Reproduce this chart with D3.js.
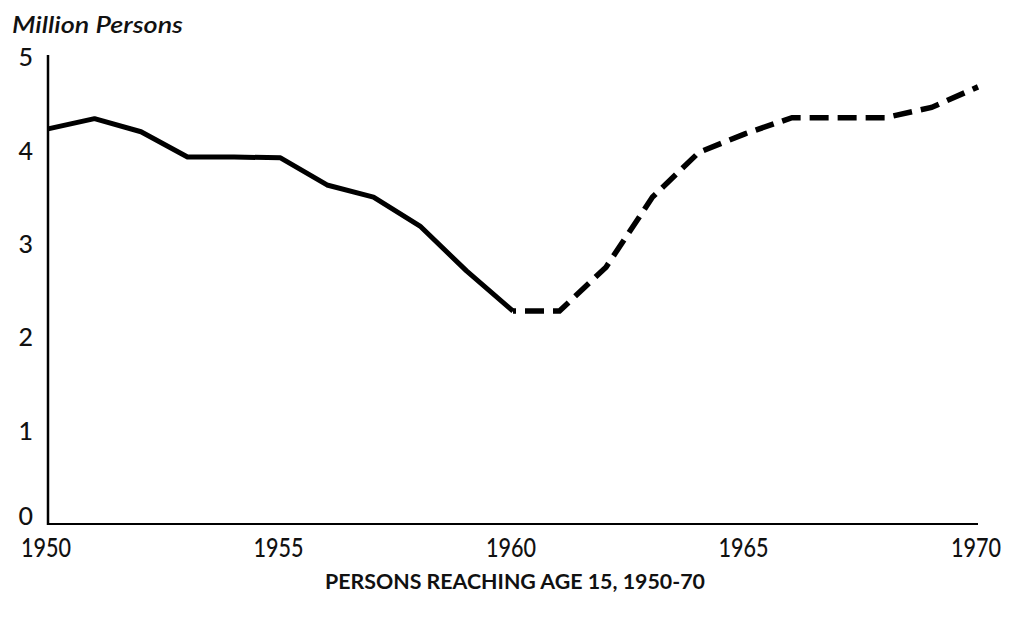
<!DOCTYPE html>
<html><head><meta charset="utf-8">
<script src="https://d3js.org/d3.v7.min.js"></script>
<style>body{margin:0;background:#fff}svg{display:block}</style>
</head><body>
<svg id="c" width="1011" height="626"></svg>
<script>
const actualYears = [1950,1951,1952,1953,1954,1955,1956,1957,1958,1959,1960];
const actualValues = [4.23,4.34,4.2,3.93,3.93,3.92,3.63,3.5,3.19,2.71,2.28];
const projYears = [1960,1961,1962,1963,1964,1965,1966,1967,1968,1969,1970];
const projValues = [2.28,2.28,2.75,3.5,3.98,4.18,4.35,4.35,4.35,4.46,4.68];
const xTicks = [1950,1955,1960,1965,1970];
const yTicks = [0,1,2,3,4,5];
const yTitle = "Million Persons";
const chartTitle = "PERSONS REACHING AGE 15, 1950-70";

const svg = d3.select("#c");
const x = d3.scaleLinear().domain([1950,1970]).range([48,978]);
const y = d3.scaleLinear().domain([0,5]).range([524,57]);
const font = "Lato, 'DejaVu Sans', sans-serif";

// y axis
const yAxis = d3.axisLeft(y).tickValues(yTicks).tickSize(0).tickPadding(15).tickFormat(d3.format("d"));
const gy = svg.append("g").attr("transform","translate(48,0)").call(yAxis);
gy.select(".domain").attr("stroke","#000").attr("stroke-width",2.5).attr("d","M0,"+(y(5)-2)+"V"+(y(0)+1));
gy.selectAll("text").attr("font-family",font).attr("font-size",25).attr("font-weight",500).attr("fill","#111")
  .attr("dy",(d)=> d===0 ? "0.0em" : "0.35em");

// x axis
const xAxis = d3.axisBottom(x).tickValues(xTicks).tickSize(0).tickPadding(14).tickFormat(d3.format("d"));
const gx = svg.append("g").attr("transform","translate(0,524)").call(xAxis);
gx.select(".domain").attr("stroke","#000").attr("stroke-width",2.2).attr("d","M"+(x(1950)-1)+",0H"+x(1970));
gx.selectAll(".tick").each(function(d){
  const t=d3.select(this); const tx=x(d);
  t.attr("transform","translate(0,0)");
  t.select("text").attr("font-family",font).attr("font-size",27).attr("font-weight",500).attr("fill","#111")
   .attr("transform","translate("+(tx - 2)+",0) scale(0.8,1)").attr("x",0);
});

const line = d3.line().x(d=>x(d[0])).y(d=>y(d[1])).curve(d3.curveLinear);
svg.append("path").datum(actualYears.map((v,i)=>[v,actualValues[i]]))
  .attr("d",line).attr("fill","none").attr("stroke","#000").attr("stroke-width",5)
  .attr("stroke-linejoin","round");
svg.append("path").datum(projYears.map((v,i)=>[v,projValues[i]]))
  .attr("d",line).attr("fill","none").attr("stroke","#000").attr("stroke-width",5.5)
  .attr("stroke-dasharray","19,9").attr("stroke-dashoffset",-12);

svg.append("text").attr("x",12).attr("y",33).attr("font-family",font).attr("font-style","italic")
  .attr("font-weight",600).attr("font-size",23).attr("fill","#111")
  .attr("textLength",171).attr("lengthAdjust","spacingAndGlyphs").text(yTitle);
svg.append("text").attr("x",325).attr("y",589)
  .attr("font-family",font).attr("font-weight","bold").attr("font-size",21)
  .attr("textLength",380).attr("lengthAdjust","spacingAndGlyphs")
  .attr("fill","#111").text(chartTitle);
</script>
</body></html>
